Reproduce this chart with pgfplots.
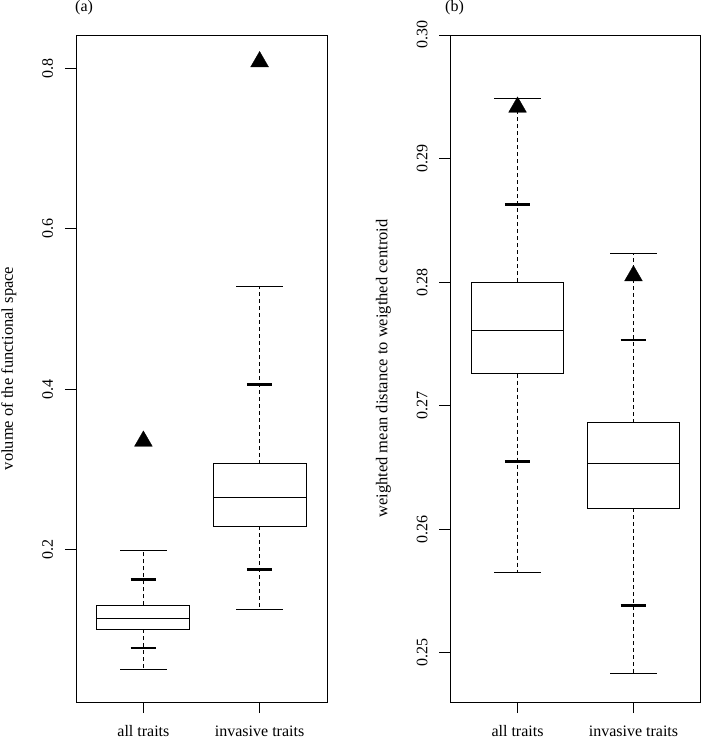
\documentclass[border=0pt]{standalone}
\usepackage{fontspec}
\setmainfont{Liberation Serif}
\usepackage{pgfplots}
\pgfplotsset{compat=1.18}
\begin{document}
\begin{tikzpicture}[x=1pt,y=1pt]
\path[use as bounding box] (0,0) rectangle (702,739);
\pgfplotsset{
  rbox/.style={
    scale only axis, height=667pt, anchor=south west,
    xmin=0.42, xmax=2.58, xtick={1,2}, xticklabels={all traits, invasive traits},
    tick pos=left, tick align=outside, major tick length=11pt,
    axis line style={line width=0.9pt, black},
    every tick/.style={line width=0.9pt, black},
    tick label style={font=\fontsize{16}{19}\selectfont},
    label style={font=\fontsize{16.5}{19}\selectfont},
    yticklabel style={rotate=90, anchor=base, inner sep=0pt},
    xticklabel style={anchor=base, inner sep=0pt},
    yticklabel shift=12pt,
    xticklabel shift=23pt,
    /pgf/number format/assume math mode=true,
    scaled y ticks=false,
    clip=false,
    ylabel style={at={([xshift=-63pt]axis description cs:0,0.5)}, anchor=base, inner sep=0pt},
  },
  bx/.style={black, line width=0.9pt, line join=miter},
  wh/.style={black, line width=0.9pt, dash pattern=on 4pt off 3pt},
  cap/.style={black, line width=0.9pt},
  thk/.style={black, line width=2.7pt},
  tri/.style={only marks, mark=triangle*, mark size=10.3pt, mark options={fill=black, draw=black, line width=0.3pt}},
}
% ---------------- panel (a)
\begin{axis}[rbox, at={(76pt,37pt)}, width=251pt,
  ymin=0.0102, ymax=0.8415,
  ytick={0.2,0.4,0.6,0.8},
  yticklabel style={/pgf/number format/.cd, fixed, fixed zerofill, precision=1},
  ylabel={volume of the functional space},
]
% all traits
\addplot[wh] coordinates {(1,0.1307) (1,0.1996)};
\addplot[wh] coordinates {(1,0.1008) (1,0.0510)};
\addplot[bx] coordinates {(0.6,0.1008) (1.4,0.1008) (1.4,0.1307) (0.6,0.1307)} -- cycle;
\addplot[bx] coordinates {(0.6,0.1149) (1.4,0.1149)};
\addplot[cap] coordinates {(0.8,0.1996) (1.2,0.1996)};
\addplot[cap] coordinates {(0.8,0.0510) (1.2,0.0510)};
\addplot[thk] coordinates {(0.89,0.1630) (1.11,0.1630)};
\addplot[thk] coordinates {(0.89,0.0775) (1.11,0.0775)};
% invasive traits
\addplot[wh] coordinates {(2,0.3073) (2,0.5286)};
\addplot[wh] coordinates {(2,0.2293) (2,0.1257)};
\addplot[bx] coordinates {(1.6,0.2293) (2.4,0.2293) (2.4,0.3073) (1.6,0.3073)} -- cycle;
\addplot[bx] coordinates {(1.6,0.2649) (2.4,0.2649)};
\addplot[cap] coordinates {(1.8,0.5286) (2.2,0.5286)};
\addplot[cap] coordinates {(1.8,0.1257) (2.2,0.1257)};
\addplot[thk] coordinates {(1.89,0.4062) (2.11,0.4062)};
\addplot[thk] coordinates {(1.89,0.1756) (2.11,0.1756)};
% observed values
\addplot[tri] coordinates {(1,0.3353) (2,0.8082)};
\end{axis}
% ---------------- panel (b)
\begin{axis}[rbox, at={(450.3pt,37pt)}, width=250.4pt,
  ymin=0.24601, ymax=0.300,
  ytick={0.25,0.26,0.27,0.28,0.29,0.30},
  yticklabel style={/pgf/number format/.cd, fixed, fixed zerofill, precision=2},
  ylabel={weighted mean distance to weigthed centroid},
]
% all traits
\addplot[wh] coordinates {(1,0.2800) (1,0.2949)};
\addplot[wh] coordinates {(1,0.2726) (1,0.2565)};
\addplot[bx] coordinates {(0.6,0.2726) (1.4,0.2726) (1.4,0.2800) (0.6,0.2800)} -- cycle;
\addplot[bx] coordinates {(0.6,0.2761) (1.4,0.2761)};
\addplot[cap] coordinates {(0.8,0.2949) (1.2,0.2949)};
\addplot[cap] coordinates {(0.8,0.2565) (1.2,0.2565)};
\addplot[thk] coordinates {(0.89,0.2863) (1.11,0.2863)};
\addplot[thk] coordinates {(0.89,0.2655) (1.11,0.2655)};
% invasive traits
\addplot[wh] coordinates {(2,0.2686) (2,0.2823)};
\addplot[wh] coordinates {(2,0.2617) (2,0.2483)};
\addplot[bx] coordinates {(1.6,0.2617) (2.4,0.2617) (2.4,0.2686) (1.6,0.2686)} -- cycle;
\addplot[bx] coordinates {(1.6,0.2653) (2.4,0.2653)};
\addplot[cap] coordinates {(1.8,0.2823) (2.2,0.2823)};
\addplot[cap] coordinates {(1.8,0.2483) (2.2,0.2483)};
\addplot[thk] coordinates {(1.89,0.2753) (2.11,0.2753)};
\addplot[thk] coordinates {(1.89,0.2538) (2.11,0.2538)};
% observed values
\addplot[tri] coordinates {(1,0.29416) (2,0.28051)};
\end{axis}
\node[anchor=base west, inner sep=0pt, font=\fontsize{16}{19}\selectfont] at (75,727.5) {(a)};
\node[anchor=base west, inner sep=0pt, font=\fontsize{16}{19}\selectfont] at (445,727.5) {(b)};
\end{tikzpicture}
\end{document}
